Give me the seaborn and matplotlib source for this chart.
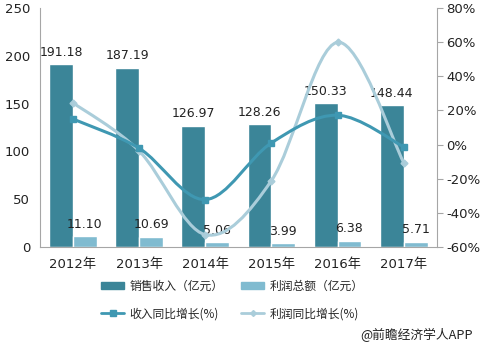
import matplotlib
matplotlib.use("Agg")
import matplotlib.pyplot as plt
import seaborn as sns
import pandas as pd
import numpy as np
from matplotlib.path import Path
from matplotlib.patches import PathPatch
from matplotlib.lines import Line2D
from matplotlib.patches import Patch
from matplotlib.ticker import FuncFormatter

years = ["2012年", "2013年", "2014年", "2015年", "2016年", "2017年"]
revenue = [191.18, 187.19, 126.97, 128.26, 150.33, 148.44]
profit = [11.10, 10.69, 5.06, 3.99, 6.38, 5.71]
revenue_growth = [15.0, -2.1, -32.2, 1.0, 17.2, -1.3]
profit_growth = [24.5, -3.7, -52.7, -21.1, 59.9, -10.5]

series_names = ["销售收入（亿元）", "利润总额（亿元）"]
line_names = ["收入同比增长(%)", "利润同比增长(%)"]

c_rev = "#3b8598"
c_pro = "#80bbd0"
c_rg = "#3f98b2"
c_pg = "#aacdda"

sns.set_theme(style="white")
plt.rcParams["font.family"] = ["DejaVu Sans", "Noto Sans CJK SC"]

df = pd.DataFrame({
    "year": years * 2,
    "value": revenue + profit,
    "series": [series_names[0]] * 6 + [series_names[1]] * 6,
})

fig = plt.figure(figsize=(4.8, 3.47), dpi=100)
ax = fig.add_axes([0.083, 0.288, 0.827, 0.689])
sns.barplot(data=df, x="year", y="value", hue="series", palette=[c_rev, c_pro],
            ax=ax, width=0.72, saturation=1, legend=False)

ax.set_ylim(0, 250)
ax.set_yticks(range(0, 251, 50))
ax.set_xlim(-0.5, 5.5)
ax.set_xlabel("")
ax.set_ylabel("")
for s in ["top", "right"]:
    ax.spines[s].set_visible(False)
for s in ["left", "bottom"]:
    ax.spines[s].set_color("#a6a6a6")
    ax.spines[s].set_linewidth(0.8)
ax.tick_params(axis="y", length=0, labelsize=9.5, colors="#222222", pad=7)
ax.tick_params(axis="x", length=0, labelsize=9.5, colors="#222222", pad=8)
for lbl in ax.get_xticklabels():
    lbl.set_fontfamily(["DejaVu Sans", "Noto Sans CJK SC"])

for cont in ax.containers:
    ax.bar_label(cont, labels=[f"{v:.2f}" for v in cont.datavalues], padding=4,
                 fontsize=9, color="#222222")

ax2 = ax.twinx()
ax2.set_ylim(-60, 80)
ax2.set_yticks(range(-60, 81, 20))
ax2.yaxis.set_major_formatter(FuncFormatter(lambda v, p: f"{int(v)}%"))
for s in ["top", "left", "bottom"]:
    ax2.spines[s].set_visible(False)
ax2.spines["right"].set_color("#a6a6a6")
ax2.spines["right"].set_linewidth(0.8)
ax2.tick_params(axis="y", length=4, width=0.8, color="#a6a6a6", labelsize=9.5,
                colors="#222222", pad=3)
ax2.grid(False)
ax.grid(False)


def smooth_path(xs, ys, t=1/6):
    verts = [(xs[0], ys[0])]
    codes = [Path.MOVETO]
    n = len(xs)
    for i in range(n - 1):
        p0 = (xs[max(i - 1, 0)], ys[max(i - 1, 0)])
        p1 = (xs[i], ys[i])
        p2 = (xs[i + 1], ys[i + 1])
        p3 = (xs[min(i + 2, n - 1)], ys[min(i + 2, n - 1)])
        c1 = (p1[0] + (p2[0] - p0[0]) * t, p1[1] + (p2[1] - p0[1]) * t)
        c2 = (p2[0] - (p3[0] - p1[0]) * t, p2[1] - (p3[1] - p1[1]) * t)
        verts += [c1, c2, p2]
        codes += [Path.CURVE4] * 3
    return Path(verts, codes)


xpos = list(range(len(years)))
ax2.add_patch(PathPatch(smooth_path(xpos, profit_growth), fill=False,
                        edgecolor=c_pg, lw=2.2, zorder=3))
ax2.plot(xpos, profit_growth, ls="none", marker="D", ms=3.5, color=c_pg, zorder=4)
ax2.add_patch(PathPatch(smooth_path(xpos, revenue_growth), fill=False,
                        edgecolor=c_rg, lw=2.2, zorder=5))
ax2.plot(xpos, revenue_growth, ls="none", marker="s", ms=5, color=c_rg, zorder=6)

handles = [
    Patch(color=c_rev, label=series_names[0]),
    Line2D([], [], color=c_rg, lw=2, marker="s", ms=5, label=line_names[0]),
    Patch(color=c_pro, label=series_names[1]),
    Line2D([], [], color=c_pg, lw=2, marker="D", ms=3, label=line_names[1]),
]
fig.legend(handles=handles, ncol=2, loc="upper left", bbox_to_anchor=(0.21, 0.193),
           frameon=False, handlelength=2.0, handleheight=0.55,
           columnspacing=1.5, handletextpad=0.4, labelspacing=1.2,
           borderpad=0, borderaxespad=0,
           prop={"family": ["Noto Sans CJK SC", "DejaVu Sans"], "size": 8.5})

fig.text(0.985, 0.015, "@前瞻经济学人APP", ha="right", va="bottom", fontsize=9.2,
         color="#222222", family=["Noto Sans CJK SC", "DejaVu Sans"])

fig.savefig("out.png", dpi=100)
